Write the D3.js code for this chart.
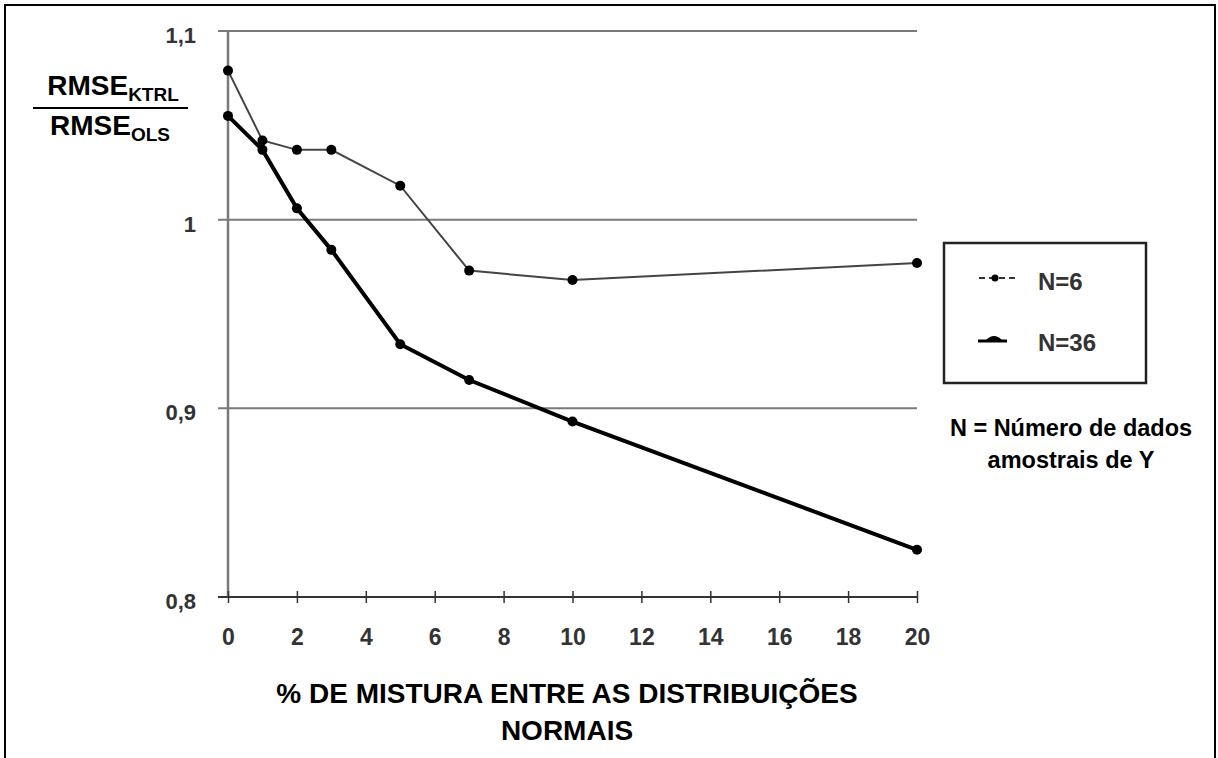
<!DOCTYPE html>
<html lang="pt">
<head>
<meta charset="UTF-8">
<title>RMSE chart</title>
<style>
  body { margin: 0; background: #fff; }
  text { font-family: "Liberation Sans", Arial, sans-serif; font-weight: bold; }
</style>
</head>
<body>
<script src="https://d3js.org/d3.v7.min.js"></script>
<script>
// dados
const mistura = [0, 1, 2, 3, 5, 7, 10, 20];
const n6 = [1.079, 1.042, 1.037, 1.037, 1.018, 0.973, 0.968, 0.977];
const n36 = [1.055, 1.037, 1.006, 0.984, 0.934, 0.915, 0.893, 0.825];
const xTicks = [0, 2, 4, 6, 8, 10, 12, 14, 16, 18, 20];
const yTicks = [0.8, 0.9, 1, 1.1];
const yTickLabels = ['0,8', '0,9', '1', '1,1'];

const width = 1218, height = 758;
const svg = d3.select('body').append('svg')
  .attr('width', width).attr('height', height);

// moldura externa
svg.append('rect')
  .attr('x', 5).attr('y', 5).attr('width', 1210).attr('height', 760)
  .attr('fill', 'none').attr('stroke', '#000').attr('stroke-width', 2);

const x = d3.scaleLinear().domain([0, 20]).range([228, 917]);
const y = d3.scaleLinear().domain([0.8, 1.1]).range([597, 31]);

// linhas de grade
svg.selectAll('.grid')
  .data(yTicks.slice(1))
  .enter().append('line')
  .attr('x1', 218).attr('x2', 917)
  .attr('y1', d => y(d)).attr('y2', d => y(d))
  .attr('stroke', '#7a7a7a').attr('stroke-width', 2);

// eixo y
svg.append('line')
  .attr('x1', 228).attr('x2', 228).attr('y1', y(1.1)).attr('y2', y(0.8))
  .attr('stroke', '#7a7a7a').attr('stroke-width', 2.5);

// eixo x
const xAxis = d3.axisBottom(x).tickValues(xTicks).tickSize(0).tickFormat(d => d);
const gx = svg.append('g').attr('transform', `translate(0,${y(0.8)})`).call(xAxis);
gx.select('.domain').remove();
gx.append('line').attr('x1', 218).attr('x2', 917).attr('stroke', '#333').attr('stroke-width', 2);
gx.selectAll('.tick').append('line')
  .attr('y1', -6).attr('y2', 6).attr('stroke', '#333').attr('stroke-width', 1.5);
gx.selectAll('.tick text')
  .attr('y', 48).attr('dy', 0)
  .attr('fill', '#333').style('font-size', '23px')
  .style('font-family', '"Liberation Sans", Arial, sans-serif').style('font-weight', 'bold');

// rótulos do eixo y
svg.selectAll('.ylab')
  .data(yTicks)
  .enter().append('text')
  .attr('x', 196).attr('y', d => y(d) + 12)
  .attr('text-anchor', 'end').attr('fill', '#333')
  .style('font-size', '22px')
  .text((d, i) => yTickLabels[i]);

const line = d3.line().x(d => x(d[0])).y(d => y(d[1]));

const s6 = mistura.map((m, i) => [m, n6[i]]);
const s36 = mistura.map((m, i) => [m, n36[i]]);

svg.append('path').datum(s6).attr('d', line)
  .attr('fill', 'none').attr('stroke', '#444').attr('stroke-width', 2);
svg.append('path').datum(s36).attr('d', line)
  .attr('fill', 'none').attr('stroke', '#000').attr('stroke-width', 4);

svg.selectAll('.p6').data(s6).enter().append('circle')
  .attr('cx', d => x(d[0])).attr('cy', d => y(d[1])).attr('r', 5).attr('fill', '#000');
svg.selectAll('.p36').data(s36).enter().append('circle')
  .attr('cx', d => x(d[0])).attr('cy', d => y(d[1])).attr('r', 5).attr('fill', '#000');

// legenda
const leg = svg.append('g');
leg.append('rect').attr('x', 944).attr('y', 243).attr('width', 202).attr('height', 140)
  .attr('fill', '#fff').attr('stroke', '#222').attr('stroke-width', 2.5);
leg.append('line').attr('x1', 979).attr('x2', 1015).attr('y1', 278).attr('y2', 278)
  .attr('stroke', '#333').attr('stroke-width', 2).attr('stroke-dasharray', '6,4');
leg.append('circle').attr('cx', 995).attr('cy', 278).attr('r', 3.5).attr('fill', '#000');
leg.append('text').attr('x', 1038).attr('y', 290).style('font-size', '24px').attr('fill', '#333').text('N=6');
leg.append('line').attr('x1', 978).attr('x2', 1007).attr('y1', 341).attr('y2', 341)
  .attr('stroke', '#000').attr('stroke-width', 3);
leg.append('path').attr('d', 'M986,340 Q994,332 1002,340 Z').attr('fill', '#000');
leg.append('text').attr('x', 1038).attr('y', 351).style('font-size', '24px').attr('fill', '#333').text('N=36');

// nota
svg.append('text').attr('x', 1071).attr('y', 436).attr('text-anchor', 'middle')
  .style('font-size', '23.5px').text('N = Número de dados');
svg.append('text').attr('x', 1071).attr('y', 468).attr('text-anchor', 'middle')
  .style('font-size', '23.5px').text('amostrais de Y');

// título do eixo y (fração)
const yl = svg.append('g');
const t1 = yl.append('text').attr('x', 113).attr('y', 95).attr('text-anchor', 'middle').style('font-size', '28px');
t1.append('tspan').text('RMSE');
t1.append('tspan').attr('dy', 6).style('font-size', '19px').text('KTRL');
yl.append('line').attr('x1', 33).attr('x2', 188).attr('y1', 108).attr('y2', 108)
  .attr('stroke', '#000').attr('stroke-width', 2);
const t2 = yl.append('text').attr('x', 110).attr('y', 135).attr('text-anchor', 'middle').style('font-size', '28px');
t2.append('tspan').text('RMSE');
t2.append('tspan').attr('dy', 6).style('font-size', '19px').text('OLS');

// título do eixo x
svg.append('text').attr('x', 567).attr('y', 703).attr('text-anchor', 'middle')
  .style('font-size', '28px').text('% DE MISTURA ENTRE AS DISTRIBUIÇÕES');
svg.append('text').attr('x', 567).attr('y', 740).attr('text-anchor', 'middle')
  .style('font-size', '28px').text('NORMAIS');
</script>
</body>
</html>
